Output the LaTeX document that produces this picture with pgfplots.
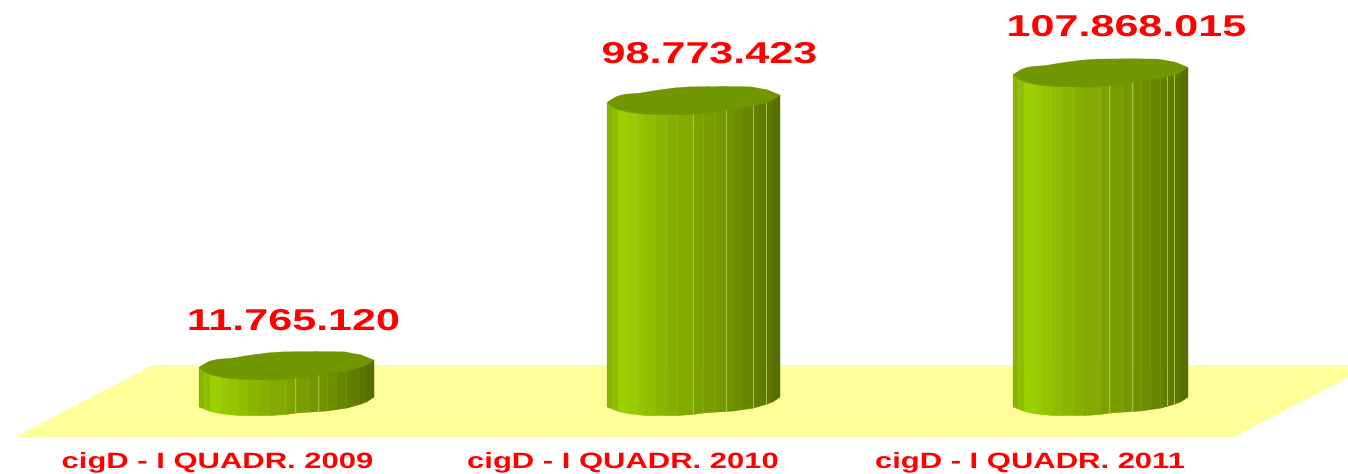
\documentclass[border=0pt]{standalone}
\usepackage{fontspec}
\setmainfont{Liberation Sans}
\usepackage{graphicx}
\usepackage{pgfplots}
\pgfplotsset{compat=1.18}
% u-left / u-right / bottom-left px / bottom-right px / red / green
\def\striplist{0/.031/6/8/135/180,.031/.064/8/10.5/142/190,.064/.122/10.5/12.7/155/208,.122/.171/12.7/13.6/151/202,.171/.219/13.6/14.5/147/196,.219/.281/14.5/14.7/143/189,.281/.345/14.7/14.7/138/182,.345/.407/14.7/14.7/134/175,.407/.5/14.7/13.4/130/170,.5/.558/13.4/12/125/162,.558/.626/12/11.2/121/156,.626/.688/11.2/10.5/117/151,.688/.733/10.5/10/113/146,.733/.787/10/8.6/109/140,.787/.843/8.6/7.2/104/133,.843/.874/7.2/5.7/100/128,.874/.921/5.7/3.3/97/124,.921/.959/3.3/.8/93/118,.959/1/.8/-4/88/110}
% outline of the top face: u / offset in px
\def\toplist{0/2.3,.02/0,.045/-2.7,.07/-4.5,.112/-6,.19/-7,.25/-8.8,.306/-10.3,.4/-12.4,.48/-13.3,.674/-13.7,.83/-13.3,.926/-10.3,1/-5,.946/.7,.85/5.7,.733/8.3,.65/11,.558/13,.442/14.7,.229/14,.14/12.5,.07/9.7,.03/6.5}
\newcommand{\cyl}[4]{%
  \foreach \a/\b/\c/\d/\r/\g in \striplist {%
    \pgfmathsetmacro\xa{#1+\a*#2}\pgfmathsetmacro\xb{#1+\b*#2}%
    \pgfmathsetmacro\ya{(\c)*(-1)/3.046}\pgfmathsetmacro\yb{(\d)*(-1)/3.046}%
    \pgfmathsetmacro\ta{#3-(2.3-7.3*\a)/3.046}\pgfmathsetmacro\tb{#3-(2.3-7.3*\b)/3.046}%
    \edef\temp{\noexpand\addplot[draw={rgb,255:red,\r;green,\g;blue,0},line width=0.2pt,fill={rgb,255:red,\r;green,\g;blue,0}] coordinates {(\xa,\ya)(\xb,\yb)(\xb,\tb)(\xa,\ta)} -- cycle;}\temp
  }%
  \foreach \u/\p in {#4} {%
    \pgfmathsetmacro\xa{#1+\u*#2}%
    \pgfmathsetmacro\ya{(\p)*(-1)/3.046}\pgfmathsetmacro\ta{#3-(2.3-7.3*\u)/3.046}%
    \edef\temp{\noexpand\addplot[draw={rgb,255:red,165;green,195;blue,70},line width=0.4pt] coordinates {(\xa,\ya)(\xa,\ta)};}\temp
  }%
  \gdef\toppath{}%
  \foreach \u/\p in \toplist {%
    \pgfmathsetmacro\xa{#1+\u*#2}\pgfmathsetmacro\ya{#3-(\p)/3.046}%
    \xdef\toppath{\toppath(\xa,\ya)}%
  }%
  \edef\temp{\noexpand\addplot[draw={rgb,255:red,112;green,150;blue,0},line width=0.2pt,fill={rgb,255:red,112;green,150;blue,0}] coordinates {\toppath} -- cycle;}\temp
}
\begin{document}
\begin{tikzpicture}
\begin{axis}[
  scale only axis,width=1011pt,height=354.75pt,
  xmin=0,xmax=1348,ymin=-23.637,ymax=131.648,
  axis line style={draw=none},tick style={draw=none},
  ytick=\empty,
  xtick={217.5,623,1030},
  xticklabels={{\scalebox{1.4}[1]{cigD - I QUADR. 2009}},{\scalebox{1.4}[1]{cigD - I QUADR. 2010}},{\scalebox{1.4}[1]{cigD - I QUADR. 2011}}},
  x tick label style={font=\fontsize{16.6pt}{18pt}\selectfont\bfseries,text=red,anchor=center,yshift=7.5pt,inner sep=0pt},
]
\addplot[draw=none,fill={rgb,255:red,255;green,255;blue,153}] coordinates {(15,-11.82)(153,11.82)(1348,11.82)(1348,7.55)(1233,-11.82)} -- cycle;
\cyl{199}{175}{11.76512}{.55/12,.68/10.5}
\cyl{607}{173}{98.773423}{.5/13.4,.688/10.5,.843/7.2,.921/3.3}
\cyl{1013}{175}{107.868015}{.55/12,.68/10.5,.88/5.5,.92/3.3}
\tikzset{vlab/.style={text=red,font=\fontsize{22.6pt}{24pt}\selectfont\bfseries,inner sep=0pt}}
\node[vlab] at (axis cs:293.5,26.5) {\scalebox{1.43}[1]{11.765.120}};
\node[vlab] at (axis cs:709.5,114.2) {\scalebox{1.43}[1]{98.773.423}};
\node[vlab] at (axis cs:1126.5,123.1) {\scalebox{1.43}[1]{107.868.015}};
\end{axis}
\end{tikzpicture}
\end{document}
